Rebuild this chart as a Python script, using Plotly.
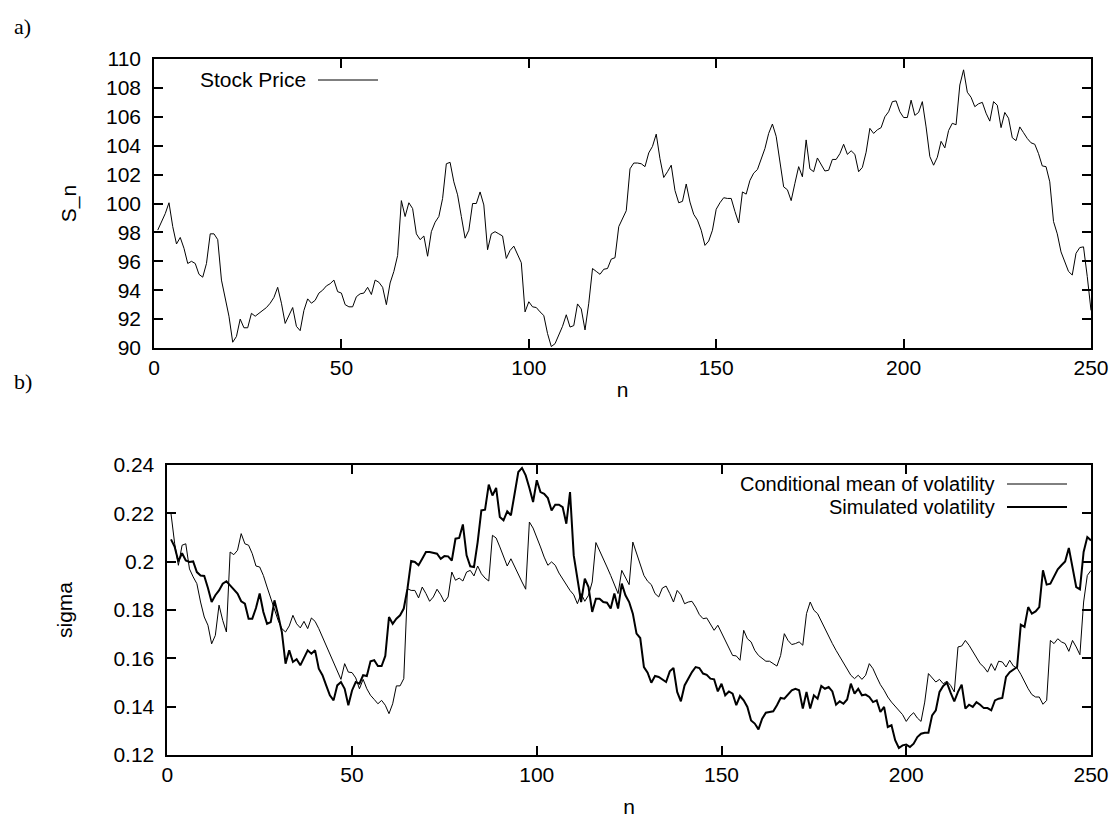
import plotly.graph_objects as go

# ---------------- data ----------------
n_values = list(range(1, 251))

stock_price = [
    98.16, 98.7, 99.3, 100.05, 98.4, 97.2, 97.65, 96.9, 95.85, 96.0,
    95.85, 95.1, 94.9, 95.85, 97.9, 97.9, 97.5, 94.7, 93.4, 92.2,
    90.4, 90.8, 92.0, 91.4, 91.4, 92.4, 92.2, 92.4, 92.6, 92.8,
    93.1, 93.5, 94.2, 93.1, 91.7, 92.2, 92.8, 91.5, 91.2, 92.6,
    93.4, 93.1, 93.3, 93.8, 94.0, 94.3, 94.45, 94.7, 93.9, 93.8,
    93.0, 92.85, 92.85, 93.55, 93.75, 93.8, 94.2, 93.7, 94.7, 94.55,
    94.2, 93.0, 94.5, 95.3, 96.4, 100.2, 99.1, 100.05, 99.65, 97.9,
    97.5, 97.75, 96.35, 98.05, 98.7, 99.1, 100.35, 102.75, 102.85, 101.5,
    100.6, 99.1, 97.6, 98.15, 100.0, 100.0, 100.8, 99.9, 96.8, 97.9,
    98.05, 97.9, 97.75, 96.2, 96.75, 97.05, 96.5, 95.9, 92.5, 93.2,
    92.85, 92.8, 92.5, 92.25, 91.0, 90.1, 90.3, 90.9, 91.5, 92.3,
    91.45, 91.55, 93.05, 92.7, 91.25, 93.1, 95.5, 95.3, 95.1, 95.45,
    95.5, 96.15, 96.25, 98.4, 98.9, 99.5, 102.4, 102.8, 102.8, 102.75,
    102.55, 103.5, 103.95, 104.8, 103.1, 101.8, 102.2, 102.65, 100.9, 100.05,
    100.15, 101.35, 100.1, 99.25, 98.85, 98.15, 97.1, 97.4, 98.15, 99.6,
    100.05, 100.4, 100.35, 100.35, 99.45, 98.65, 100.8, 100.65, 101.6, 102.1,
    102.35, 103.1, 103.8, 104.85, 105.5, 104.65, 102.9, 101.15, 100.95, 100.2,
    101.4, 102.55, 101.85, 104.4, 102.4, 102.2, 103.15, 102.65, 102.25, 102.3,
    103.05, 103.05, 103.45, 104.1, 103.4, 103.65, 103.4, 102.2, 102.5, 103.55,
    105.2, 104.85, 105.1, 105.25, 106.0, 106.35, 107.05, 107.1, 106.35, 105.95,
    105.95, 107.15, 106.1, 106.3, 107.05, 105.3, 103.25, 102.65, 103.2, 104.3,
    103.85, 105.05, 105.55, 105.45, 108.2, 109.25, 107.7, 107.35, 106.7, 106.9,
    107.0, 106.25, 105.7, 107.05, 106.8, 105.25, 106.3, 105.9, 104.55, 104.35,
    105.3, 104.9, 104.5, 104.2, 104.1, 103.45, 102.6, 102.55, 101.5, 98.75,
    97.9, 96.65, 96.0, 95.3, 95.05, 96.55, 96.95, 97.0, 94.95, 92.6,
]

cond_mean_vol = [
    0.2199, 0.2074, 0.1985, 0.2068, 0.2074, 0.197, 0.1937, 0.1909, 0.1833, 0.1771,
    0.1737, 0.166, 0.1695, 0.182, 0.1757, 0.1709, 0.204, 0.2029, 0.2047, 0.2116,
    0.2074, 0.2068, 0.2033, 0.1982, 0.1978, 0.1943, 0.1895, 0.1847, 0.1799, 0.1757,
    0.1723, 0.1709, 0.1734, 0.1778, 0.1743, 0.1726, 0.1753, 0.1723, 0.1767, 0.1753,
    0.1723, 0.1688, 0.1654, 0.1615, 0.1578, 0.1543, 0.1513, 0.1578, 0.1543, 0.1541,
    0.1519, 0.1474, 0.1513, 0.1474, 0.1447, 0.143, 0.1412, 0.1426, 0.1406, 0.1371,
    0.1412, 0.1486, 0.1486, 0.1516, 0.1888, 0.1881, 0.1881, 0.185, 0.1895, 0.1868,
    0.1836, 0.1854, 0.1886, 0.1863, 0.1833, 0.1854, 0.1957, 0.1923, 0.1932, 0.192,
    0.1957, 0.1964, 0.1941, 0.1982, 0.195, 0.1932, 0.192, 0.2109, 0.2098, 0.2061,
    0.2019, 0.1982, 0.2012, 0.1978, 0.1943, 0.1916, 0.1886, 0.2164, 0.2139, 0.2102,
    0.2061, 0.2019, 0.1985, 0.1999, 0.1985, 0.1953, 0.1927, 0.1902, 0.1881, 0.1863,
    0.1826, 0.1868, 0.1836, 0.1861, 0.1916, 0.2079, 0.2047, 0.2012, 0.1978, 0.1943,
    0.1909, 0.1868, 0.1964, 0.1937, 0.1905, 0.2081, 0.2033, 0.1985, 0.1943, 0.1919,
    0.1905, 0.1868, 0.1854, 0.1891, 0.1899, 0.1868, 0.1833, 0.1881, 0.1863, 0.1826,
    0.1833, 0.1836, 0.1812, 0.1781, 0.1764, 0.1767, 0.1739, 0.1716, 0.1737, 0.1706,
    0.1674, 0.164, 0.1612, 0.161, 0.1592, 0.1716, 0.1681, 0.1668, 0.1633, 0.1612,
    0.1599, 0.1588, 0.1588, 0.1578, 0.1568, 0.1612, 0.1702, 0.1674, 0.1657, 0.1661,
    0.1668, 0.1654, 0.1785, 0.1833, 0.1799, 0.1785, 0.1753, 0.1723, 0.1695, 0.1661,
    0.1633, 0.1606, 0.1585, 0.1557, 0.153, 0.1516, 0.153, 0.1513, 0.153, 0.1578,
    0.1557, 0.1523, 0.1491, 0.1468, 0.144, 0.1419, 0.1401, 0.1381, 0.1367, 0.1339,
    0.1361, 0.1375, 0.1353, 0.1339, 0.1419, 0.1537, 0.1519, 0.1502, 0.1513, 0.1495,
    0.1505, 0.1488, 0.1461, 0.1647, 0.1651, 0.1674, 0.1654, 0.163, 0.1601, 0.1578,
    0.1564, 0.1543, 0.1578, 0.155, 0.1588, 0.1585, 0.1564, 0.1592, 0.1568, 0.156,
    0.1534, 0.1502, 0.1474, 0.145, 0.144, 0.144, 0.141, 0.1426, 0.1674, 0.1661,
    0.1681, 0.1668, 0.1661, 0.1629, 0.1674, 0.1647, 0.1615, 0.1833, 0.1943, 0.1964,
]

simulated_vol = [
    0.2092, 0.2061, 0.2001, 0.2035, 0.2005, 0.1999, 0.2001, 0.1957, 0.1943, 0.1941,
    0.1891, 0.1833, 0.1861, 0.1881, 0.1909, 0.1919, 0.1902, 0.1886, 0.1868, 0.1836,
    0.1826, 0.1764, 0.1764, 0.1808, 0.1868, 0.1792, 0.1743, 0.175, 0.184, 0.1778,
    0.1709, 0.1578, 0.1633, 0.1585, 0.1596, 0.1571, 0.1599, 0.1633, 0.1619, 0.1633,
    0.1557, 0.153, 0.1488, 0.1447, 0.1426, 0.1488, 0.1502, 0.1474, 0.1406, 0.1467,
    0.1502, 0.1495, 0.153, 0.1527, 0.1588, 0.1592, 0.1568, 0.1568, 0.161, 0.1771,
    0.1743, 0.1764, 0.1778, 0.1806, 0.1888, 0.2003, 0.1999, 0.1985, 0.2012, 0.204,
    0.204, 0.2037, 0.2033, 0.2012, 0.2023, 0.2022, 0.2005, 0.2095, 0.2098, 0.2154,
    0.2026, 0.1981, 0.1978, 0.2081, 0.2212, 0.2215, 0.2319, 0.2274, 0.2305, 0.2185,
    0.2171, 0.2208, 0.2192, 0.2281, 0.2371, 0.2388, 0.2357, 0.2305, 0.2247, 0.2337,
    0.2288, 0.2281, 0.2263, 0.2212, 0.2236, 0.2236, 0.2226, 0.2157, 0.2288, 0.2026,
    0.1923, 0.1833, 0.193, 0.1895, 0.1792, 0.1847, 0.1847, 0.1833, 0.183, 0.1806,
    0.1868, 0.1806, 0.1909, 0.1861, 0.1833, 0.1785, 0.1702, 0.1684, 0.1564, 0.1541,
    0.1499, 0.1527, 0.1523, 0.1513, 0.1502, 0.1546, 0.156, 0.1461, 0.1422, 0.1488,
    0.1516, 0.1543, 0.1564, 0.156, 0.1537, 0.1532, 0.1516, 0.1513, 0.1463, 0.1495,
    0.1447, 0.1463, 0.1454, 0.1406, 0.1444, 0.1426, 0.1399, 0.1343, 0.133, 0.1306,
    0.135, 0.1375, 0.1378, 0.1381, 0.1406, 0.1436, 0.1433, 0.145, 0.1468, 0.1474,
    0.1468, 0.1392, 0.1461, 0.1392, 0.1447, 0.1433, 0.1486, 0.1474, 0.1481, 0.1463,
    0.1408, 0.1422, 0.1412, 0.143, 0.1495, 0.1454, 0.1474, 0.1447, 0.145, 0.144,
    0.1419, 0.1426, 0.1378, 0.1399, 0.1316, 0.1323, 0.1261, 0.1229, 0.124, 0.1243,
    0.1233, 0.1247, 0.1274, 0.1288, 0.1292, 0.1292, 0.1364, 0.1385, 0.1461, 0.1486,
    0.1499, 0.1458, 0.1422, 0.1461, 0.1491, 0.1392, 0.1408, 0.1399, 0.1419, 0.1408,
    0.1394, 0.1394, 0.1385, 0.1426, 0.1433, 0.1436, 0.1523, 0.1543, 0.1554, 0.1564,
    0.1739, 0.173, 0.1812, 0.1785, 0.1794, 0.1812, 0.1964, 0.1905, 0.1909, 0.1937,
    0.1968, 0.1985, 0.2001, 0.2057, 0.1978, 0.1895, 0.1886, 0.204, 0.2102, 0.2088,
]

x_ticks = [0, 50, 100, 150, 200, 250]
price_ticks = [90, 92, 94, 96, 98, 100, 102, 104, 106, 108, 110]
sigma_ticks = [0.12, 0.14, 0.16, 0.18, 0.20, 0.22, 0.24]
sigma_tick_text = ["0.12", "0.14", "0.16", "0.18", "0.2", "0.22", "0.24"]

# ---------------- figure ----------------
W, H = 1118, 819
FONT = "Liberation Sans, Arial, Helvetica, sans-serif"
SERIF = "Liberation Serif, DejaVu Serif, serif"
FS = 21

fig = go.Figure()
fig.add_trace(go.Scatter(x=n_values, y=stock_price, mode="lines", name="Stock Price",
                         line=dict(color="black", width=1), xaxis="x", yaxis="y",
                         showlegend=False))
fig.add_trace(go.Scatter(x=n_values, y=cond_mean_vol, mode="lines",
                         name="Conditional mean of volatility",
                         line=dict(color="black", width=1), xaxis="x2", yaxis="y2",
                         showlegend=False))
fig.add_trace(go.Scatter(x=n_values, y=simulated_vol, mode="lines",
                         name="Simulated volatility",
                         line=dict(color="black", width=2), xaxis="x2", yaxis="y2",
                         showlegend=False))

axis_common = dict(
    showgrid=False, zeroline=False, showline=True, linecolor="black", linewidth=1.6,
    mirror="ticks", ticks="inside", ticklen=9, tickwidth=1.5, tickcolor="black",
    automargin=False,
    tickfont=dict(family=FONT, size=FS, color="black"),
    title_font=dict(family=FONT, size=FS, color="black"),
)

fig.update_layout(
    width=W, height=H,
    margin=dict(l=0, r=0, t=0, b=0, pad=0),
    paper_bgcolor="white", plot_bgcolor="white",
    xaxis=dict(domain=[154 / W, 1091 / W], anchor="y", range=[0, 250],
               tickvals=x_ticks, ticklabelstandoff=0,
               title=dict(text="n", standoff=4), **axis_common),
    yaxis=dict(domain=[1 - 348 / H, 1 - 59 / H], anchor="x", range=[90, 110],
               tickvals=price_ticks, ticklabelstandoff=7,
               title=dict(text="S_n", standoff=24), **axis_common),
    xaxis2=dict(domain=[167.3 / W, 1091 / W], anchor="y2", range=[0, 250],
                tickvals=x_ticks, ticklabelstandoff=0,
                title=dict(text="n", standoff=14), **axis_common),
    yaxis2=dict(domain=[1 - 755 / H, 1 - 465 / H], anchor="x2", range=[0.12, 0.24],
                tickvals=sigma_ticks, ticktext=sigma_tick_text, ticklabelstandoff=7,
                title=dict(text="sigma", standoff=35), **axis_common),
)

# panel labels
fig.add_annotation(text="a)", x=12 / W, y=1 - 26 / H, xref="paper", yref="paper",
                   xanchor="left", yanchor="middle", showarrow=False,
                   font=dict(family=SERIF, size=22, color="black"))
fig.add_annotation(text="b)", x=12 / W, y=1 - 381 / H, xref="paper", yref="paper",
                   xanchor="left", yanchor="middle", showarrow=False,
                   font=dict(family=SERIF, size=22, color="black"))

# gnuplot-style keys (text then sample line)
def key(text, y_px, width, x_text_right, x0, x1, fs):
    fig.add_annotation(text=text, x=x_text_right / W, y=1 - y_px / H, xref="paper",
                       yref="paper", xanchor="right", yanchor="middle", showarrow=False,
                       borderpad=0,
                       font=dict(family=FONT, size=fs, color="black"))
    fig.add_shape(type="line", xref="paper", yref="paper", x0=x0 / W, x1=x1 / W,
                  y0=1 - y_px / H, y1=1 - y_px / H,
                  line=dict(color="black", width=width))

key("Stock Price", 80, 1, 307, 318, 378, FS)
key("Conditional mean of volatility", 484, 1, 996, 1007, 1067, 20)
key("Simulated volatility", 507, 2, 996, 1007, 1067, 20)

# remove the default page margin so the figure fills the 1118x819 window exactly
fig.write_html("out.html",
               config={"displayModeBar": False},
               post_script="document.body.style.margin='0';document.body.style.overflow='hidden';")
